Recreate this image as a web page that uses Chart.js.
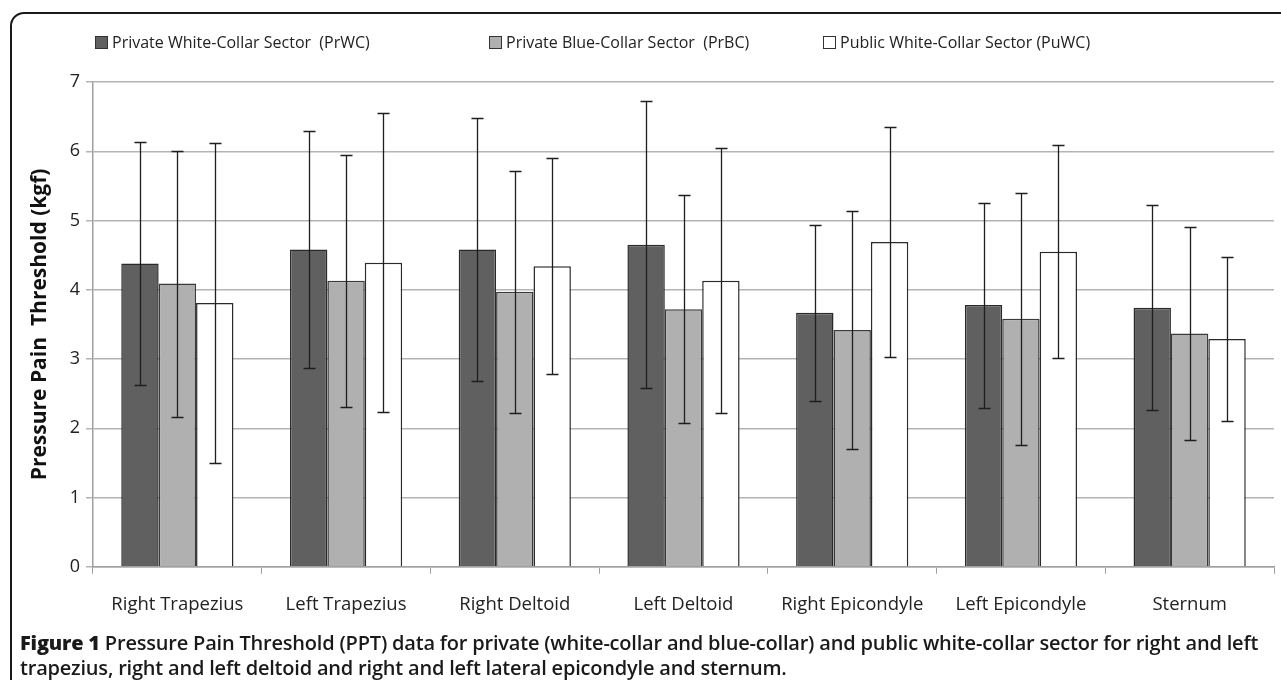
<!DOCTYPE html>
<html>
<head>
<meta charset="utf-8">
<script src="https://cdn.jsdelivr.net/npm/chart.js@4.4.1/dist/chart.umd.min.js"></script>
<style>
    body { margin:0; background:#fff; width:1281px; height:680px; overflow:hidden; position:relative; font-family:"Open Sans", sans-serif; }
    #frame { position:absolute; left:10px; top:12px; width:1300px; height:720px; border:2px solid #1a1a1a; border-radius:14px; box-sizing:border-box; }
    #wrap { position:absolute; left:0; top:0; width:1281px; height:642px; }
    #legend { position:absolute; left:0; top:30px; width:1281px; height:24px; font-size:16px; color:#222; }
    #legend .item { position:absolute; top:0; white-space:pre; line-height:24px; }
    #legend .box { display:inline-block; width:11px; height:11px; border:1px solid #333; margin-right:4px; vertical-align:-1px; }
    #caption { position:absolute; left:20px; top:630px; width:1300px; font-size:20px; line-height:25px; font-weight:600; color:#1a1a1a; letter-spacing:-0.2px; }
    #caption b { font-weight:800; }
</style>
</head>
<body>
<div id="frame"></div>
<div id="wrap"><canvas id="chart"></canvas></div>
<div id="legend"></div>
<div id="caption"><b>Figure 1</b> Pressure Pain Threshold (PPT) data for private (white-collar and blue-collar) and public white-collar sector for right and left<br>trapezius, right and left deltoid and right and left lateral epicondyle and sternum.</div>
<script>
const sites = ["Right Trapezius", "Left Trapezius", "Right Deltoid", "Left Deltoid", "Right Epicondyle", "Left Epicondyle", "Sternum"];

const seriesNames = ["Private White-Collar Sector  (PrWC)", "Private Blue-Collar Sector  (PrBC)", "Public White-Collar Sector (PuWC)"];

const prwcMean = [4.38, 4.58, 4.58, 4.65, 3.67, 3.78, 3.74];
const prwcSd   = [1.75, 1.71, 1.90, 2.07, 1.27, 1.48, 1.48];

const prbcMean = [4.09, 4.13, 3.97, 3.72, 3.42, 3.58, 3.37];
const prbcSd   = [1.92, 1.82, 1.75, 1.65, 1.72, 1.82, 1.54];

const puwcMean = [3.81, 4.39, 4.34, 4.13, 4.69, 4.55, 3.29];
const puwcSd   = [2.31, 2.16, 1.56, 1.91, 1.66, 1.54, 1.18];

const yTicks = [0, 1, 2, 3, 4, 5, 6, 7];

// whiskers for +/- SD, drawn on top of each bar
const errorBars = {
    id: "errorBars",
    afterDatasetsDraw(chart) {
        const c = chart.ctx;
        const y = chart.scales.y;
        c.save();
        c.strokeStyle = "#1e1e1e";
        c.lineWidth = 1.3;
        chart.data.datasets.forEach((ds, i) => {
            const meta = chart.getDatasetMeta(i);
            meta.data.forEach((bar, j) => {
                const m = ds.data[j], sd = ds.sd[j];
                const top = Math.round(y.getPixelForValue(m + sd)) + 0.5;
                const bot = Math.round(y.getPixelForValue(m - sd)) + 0.5;
                const x = Math.round(bar.x) + 0.5;
                c.beginPath();
                c.moveTo(x, top); c.lineTo(x, bot);
                c.moveTo(x - 6, top); c.lineTo(x + 6, top);
                c.moveTo(x - 6, bot); c.lineTo(x + 6, bot);
                c.stroke();
            });
        });
        c.restore();
    }
};

const ctx = document.getElementById("chart");

const chart = new Chart(ctx, {
    type: "bar",
    data: {
        labels: sites,
        datasets: [
        {
            label: seriesNames[0],
            data: prwcMean,
            sd: prwcSd,
            backgroundColor: "#606060",
            borderColor: "#2a2a2a",
            borderWidth: 1.5
        },
        {
            label: seriesNames[1],
            data: prbcMean,
            sd: prbcSd,
            backgroundColor: "#b0b0b0",
            borderColor: "#3a3a3a",
            borderWidth: 1.5
        },
        {
            label: seriesNames[2],
            data: puwcMean,
            sd: puwcSd,
            backgroundColor: "#ffffff",
            borderColor: "#2a2a2a",
            borderWidth: 1.5
        }]
    },
    options: {
        responsive: true,
        maintainAspectRatio: false,
        animation: false,
        categoryPercentage: 0.665,
        barPercentage: 1.0,
        layout: { padding: { left: 10, right: 7, top: 82, bottom: 6 } },
        plugins: {
            legend: { display: false },
            tooltip: { enabled: false }
        },
        scales: {
            x: {
                grid: { display: true, drawOnChartArea: false, color: "#a0a0a0", tickLength: 7, offset: true },
                border: { color: "#a0a0a0", width: 1.5 },
                ticks: { color: "#222", font: { family: "Open Sans", size: 18.5 }, padding: 20 }
            },
            y: {
                min: 0,
                max: 7,
                afterBuildTicks(axis) { axis.ticks = yTicks.map(v => ({ value: v })); },
                afterFit(axis) { axis.width = 83; },
                grid: { color: "#b4b4b4", lineWidth: 1.5, tickLength: 7 },
                border: { color: "#a0a0a0", width: 1.5 },
                ticks: { color: "#222", font: { family: "Open Sans", size: 18 }, padding: 6 },
                title: {
                    display: true,
                    text: "Pressure Pain  Threshold (kgf)",
                    color: "#111",
                    font: { family: "Open Sans", size: 21, weight: "bold" },
                    padding: { top: 17, bottom: 0 }
                }
            }
        }
    },
    plugins: [errorBars]
});

// legend entries laid out like the original figure
const legendLeft = [95, 489, 823];
const legendBox = document.getElementById("legend");
chart.data.datasets.forEach((ds, i) => {
    const item = document.createElement("span");
    item.className = "item";
    item.style.left = legendLeft[i] + "px";
    const box = document.createElement("span");
    box.className = "box";
    box.style.background = ds.backgroundColor;
    item.appendChild(box);
    item.appendChild(document.createTextNode(ds.label));
    legendBox.appendChild(item);
});
</script>
</body>
</html>
